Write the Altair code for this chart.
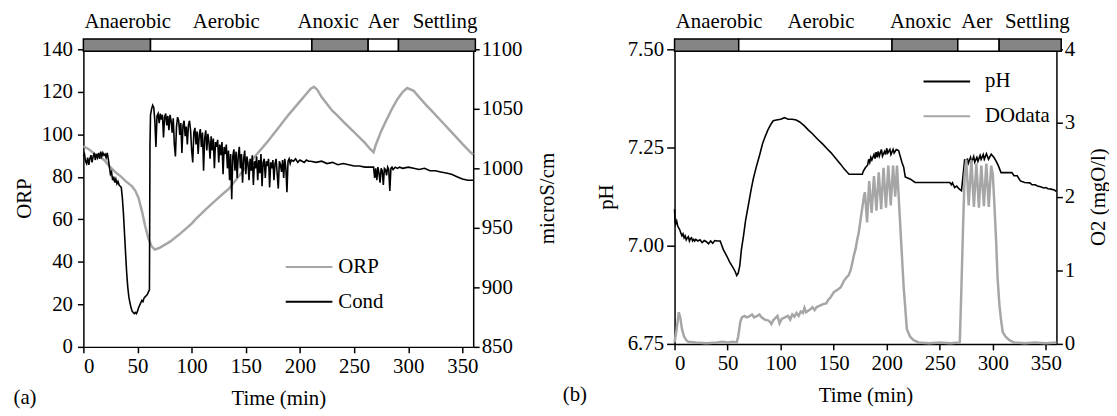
import altair as alt
import pandas as pd

# ---------------- data ----------------
phase_names = ["Anaerobic", "Aerobic", "Anoxic", "Aer", "Settling"]
phase_aerated = ["no", "yes", "no", "yes", "no"]
phase_start_a = [0, 62, 211, 263, 291]
phase_end_a = [62, 211, 263, 291, 362]
label_t_a = [41, 132, 226, 277, 334]
phase_start_b = [0, 60.5, 205, 267, 306]
phase_end_b = [60.5, 205, 267, 306, 364.5]
label_t_b = [42, 138, 232, 285, 342]

orp_t = [0, 5, 10, 15, 20, 24, 30, 35, 39, 45, 48, 51, 54, 57, 60, 63, 66, 70, 80, 90,
         100, 103, 112, 120, 130, 134, 140, 150, 160, 164, 170, 180, 186, 190, 200, 205,
         210, 213, 216, 220, 230, 234, 240, 250, 260, 265, 268, 270, 275, 279, 285, 290,
         295, 299, 305, 310, 317, 320, 330, 340, 350, 358, 360]
orp_v = [94.4, 93, 91, 89.5, 87.5, 85, 82, 80, 78, 75.5, 73.4, 70, 64, 57, 51, 47.3, 45.8,
         46.5, 49.5, 53.5, 58, 59.7, 64.2, 68, 72.5, 74.2, 78, 84.5, 90.5, 92.9, 96.5, 103,
         107, 109.5, 115.5, 118.5, 121.5, 122.4, 121, 117.5, 111, 109.2, 106, 101, 96, 93,
         91.6, 95, 101.5, 105.8, 112, 116.5, 120, 121.8, 120.5, 117.5, 113.5, 112, 106.5,
         101, 95.5, 91.3, 90.5]

cond_t = [0, 1, 2, 3, 4, 5, 6, 7, 8, 9, 10, 11, 12, 13, 14, 15, 16, 17, 18, 19, 20, 21, 22, 23,
          24, 25, 26, 27, 28, 29, 30, 31, 32, 33, 34, 35, 36, 37, 38, 39, 40, 41, 42, 43, 44,
          45, 46, 47, 48, 49, 50, 51, 52, 53, 54, 55, 56, 57, 58, 59, 60, 61, 61.5,
          62, 63, 64, 65, 66, 67, 68, 69, 70, 71, 72, 73, 74, 75, 76, 77, 78, 79, 80, 81, 82,
          83, 84, 85, 86, 87, 88, 89, 90, 91, 92, 93, 94, 95, 96, 97, 98, 99, 100, 101, 102,
          103, 104, 105, 106, 107, 108, 109, 110, 111, 112, 113, 114, 115, 116, 117, 118,
          119, 120, 121, 122, 123, 124, 125, 126, 127, 128, 129, 130, 131, 132, 133, 134,
          135, 136, 137, 138, 139, 140, 141, 142, 143, 144, 145, 146, 147, 148, 149, 150,
          151, 152, 153, 154, 155, 156, 157, 158, 159, 160, 161, 162, 163, 164, 165, 166,
          167, 168, 169, 170, 171, 172, 173, 174, 175, 176, 177, 178, 179, 180, 181, 182,
          183, 184, 185, 186, 187, 188, 189, 190, 191, 192, 194, 196, 198, 200, 202, 204,
          206, 208, 210, 215, 220, 225, 230, 235, 240, 245, 250, 255, 260, 265, 268, 269,
          270, 271, 272, 273, 274, 275, 276, 277, 278, 279, 280, 281, 282, 283, 284, 285,
          286, 288, 290, 292, 295, 300, 305, 310, 315, 320, 325, 330, 335, 340, 345, 350,
          355, 360]
cond_v = [1010, 1012, 1006, 1004, 1009, 1003, 1008, 1011, 1005, 1010, 1013, 1007, 1012, 1009,
          1013, 1008, 1014, 1010, 1013, 1011, 1012, 1009, 1013, 1008,
          1001, 995, 997, 990, 993, 988, 991, 987, 989, 986, 985, 984, 975, 962, 945, 928,
          912, 900, 892, 887, 883, 880, 879, 878, 879, 878, 880, 883, 885, 887, 889, 888,
          891, 892, 893, 894, 896, 898, 1020,
          1045, 1050, 1053, 1051, 1040, 1018, 1044, 1046, 1038, 1046, 1041, 1045, 1026, 1043,
          1046, 1036, 1044, 1032, 1045, 1040, 1030, 1042, 1020, 1010, 1035, 1043, 1040, 1028,
          1038, 1013, 1036, 1040, 1027, 1035, 1020, 1036, 1040, 1032, 1015, 1005, 1030, 1034,
          1020, 1031, 1012, 1028, 1033, 1018, 1030, 998, 1025, 1032, 1015, 1029, 1022, 1008,
          1027, 1015, 1025, 1000, 1022, 1018, 1024, 1005, 1020, 1011, 1022, 995, 1018, 1012,
          1020, 1000, 1015, 990, 1012, 974, 1010, 1016, 998, 1014, 992, 1010, 1018, 1000,
          1012, 988, 1008, 1015, 995, 1010, 1004, 990, 1008, 998, 1011, 986, 1006, 1000,
          1010, 990, 1007, 996, 1012, 985, 1005, 1008, 992, 1006, 1002, 1008, 984, 1005,
          1000, 1007, 990, 1004, 1008, 995, 983, 1006, 1003, 997, 1007, 992, 1008, 1000,
          980, 1006, 1008, 1004, 1007, 1006, 1008, 1005, 1007, 1006, 1005, 1007, 1006, 1006,
          1005, 1006, 1004, 1005, 1003, 1004, 1003, 1002, 1002, 1001, 1001, 1001, 992,
          1000, 990, 1001, 996, 988, 1000, 998, 986, 1000, 999, 994, 1001, 999, 981, 1000,
          1001, 999, 1001, 1000, 1001, 1000, 1001, 1000, 999, 1000, 998, 998, 997, 996,
          995, 993, 991, 990, 990]

ph_t = [0, 0.5, 1, 2, 3, 4, 5, 6, 7, 8, 9, 10, 11, 12, 13, 14, 15, 16, 17, 18, 19, 20, 22,
        24, 26, 28, 30, 32, 34, 36, 38, 40, 43, 46, 49, 52, 55, 57, 58.6, 60, 61.5, 63, 65,
        67, 69.5, 72, 74.2, 77, 80.4, 83, 85, 88, 91, 93, 96, 100, 103.7, 107, 111, 114.7,
        118, 122.4, 126, 130, 134.9, 140, 144, 147.4, 152, 156.7, 160, 164.5, 177, 178, 180,
        182, 183, 184, 185, 186, 188, 189, 190, 191, 192, 193, 195, 196, 198, 199, 200, 201,
        203, 204, 206, 207, 209, 211.2, 214.4, 216, 217.5, 222, 226.8, 259.5, 261, 262, 264,
        266, 268, 270.5, 272, 273.5, 275, 276, 277, 279, 280, 282, 283, 285, 286, 288, 289,
        291, 292, 294, 296, 298.5, 301, 303, 305, 307.8, 318, 320, 323, 326, 330, 335, 337,
        340, 342, 345, 348, 350, 352, 355, 358, 360]
ph_v = [7.093, 7.06, 7.055, 7.063, 7.05, 7.045, 7.04, 7.032, 7.025, 7.03, 7.02, 7.025,
        7.015, 7.02, 7.023, 7.012, 7.018, 7.02, 7.012, 7.016, 7.012, 7.016, 7.012, 7.015,
        7.008, 7.013, 7.01, 7.005, 7.012, 7.006, 7.013, 7.012, 7.012, 6.99, 6.975, 6.958,
        6.945, 6.935, 6.924, 6.93, 6.949, 6.99, 7.025, 7.065, 7.102, 7.14, 7.17, 7.2, 7.233,
        7.26, 7.275, 7.295, 7.31, 7.318, 7.32, 7.322, 7.326, 7.322, 7.322, 7.32, 7.315,
        7.305, 7.295, 7.285, 7.271, 7.258, 7.246, 7.237, 7.222, 7.207, 7.195, 7.182, 7.182,
        7.19, 7.199, 7.205, 7.22, 7.212, 7.225, 7.218, 7.232, 7.222, 7.238, 7.225, 7.24,
        7.228, 7.245, 7.228, 7.24, 7.232, 7.248, 7.236, 7.245, 7.232, 7.245, 7.236, 7.245,
        7.242, 7.212, 7.2, 7.175, 7.17, 7.161, 7.161, 7.155, 7.16, 7.148, 7.152, 7.145,
        7.14, 7.18, 7.22, 7.205, 7.222, 7.21, 7.225, 7.212, 7.227, 7.213, 7.225, 7.215,
        7.23, 7.22, 7.232, 7.22, 7.234, 7.22, 7.233, 7.225, 7.216, 7.205, 7.186, 7.186,
        7.178, 7.178, 7.165, 7.161, 7.16, 7.155, 7.155, 7.152, 7.15, 7.147, 7.148, 7.145,
        7.144, 7.142, 7.138]

do_t = [0, 2, 4, 5.5, 7, 9, 11, 13, 20, 30, 40, 45, 50, 55, 58.6, 60, 62, 63.5, 66, 68, 70,
        73, 75, 78, 80, 82, 85, 88, 90, 91.3, 93, 95, 97, 99, 101, 104, 107, 109, 111, 113,
        115, 117, 119, 121, 122.5, 124, 126, 128, 130, 132, 134, 137, 140, 143, 145, 147,
        150, 153, 156.7, 159.8, 162, 164, 166, 167.7, 169, 170.7, 172, 173.5, 175.4, 177,
        178.5, 179.5, 181.5, 183.5, 185.8, 188, 190.3, 192.5, 194.8, 197, 199.3, 201.5,
        203.8, 206, 208, 209.7, 212.8, 215.9, 219, 222, 225.3, 230, 240, 250, 260, 268.9,
        270.5, 272, 273.5, 275, 277.3, 279.8, 282.2, 284.5, 286.9, 289.2, 291.6, 293.9,
        296.2, 298.5, 300, 301.5, 303.2, 304.5, 306.3, 308, 309.4, 312, 315.6, 320, 330,
        340, 350, 360]
do_v = [0.02, 0.2, 0.43, 0.35, 0.2, 0.1, 0.05, 0.03, 0.02, 0.01, 0.02, 0.03, 0.02, 0.03,
        0.02, 0.1, 0.3, 0.36, 0.38, 0.36, 0.37, 0.4, 0.36, 0.38, 0.4, 0.36, 0.33, 0.32, 0.3,
        0.27, 0.32, 0.35, 0.38, 0.28, 0.34, 0.36, 0.38, 0.33, 0.4, 0.37, 0.42, 0.38, 0.44,
        0.42, 0.49, 0.43, 0.45, 0.47, 0.5, 0.46, 0.5, 0.52, 0.54, 0.55, 0.6, 0.63, 0.7,
        0.73, 0.77, 0.86, 0.9, 0.93, 1.0, 1.11, 1.2, 1.29, 1.4, 1.5, 1.69, 1.85, 2.0, 2.06,
        1.65, 2.21, 1.78, 2.28, 1.81, 2.33, 1.83, 2.39, 1.85, 2.42, 1.88, 2.42, 2.0, 2.42,
        1.6, 0.79, 0.2, 0.1, 0.05, 0.02, 0.01, 0.02, 0.01, 0.02, 0.8, 1.6, 2.3, 2.5, 1.88,
        2.5, 1.86, 2.45, 1.85, 2.42, 1.87, 2.45, 1.86, 2.42, 2.3, 1.9, 1.38, 0.9, 0.52, 0.3,
        0.16, 0.1, 0.05, 0.02, 0.01, 0.02, 0.01, 0.02]

# ---------------- styling ----------------
FONT = "Liberation Serif"
FS = 21
GRAY = "#a6a6a6"
BARGRAY = "#858585"

x_scale = alt.Scale(domain=[0, 360], nice=False)
x_axis = alt.Axis(values=list(range(0, 351, 50)), title="Time (min)", tickSize=6,
                  labelPadding=3, titlePadding=11)


def phase_layers(starts, ends, label_ts):
    df = pd.DataFrame({"phase": phase_names, "aerated": phase_aerated,
                       "start": starts, "end": ends, "lt": label_ts})
    bar = alt.Chart(df).mark_rect(stroke="black", strokeWidth=1.5).encode(
        x=alt.X("start:Q", scale=x_scale, axis=x_axis),
        x2="end:Q",
        y=alt.value(-10.5), y2=alt.value(2),
        fill=alt.Fill("aerated:N", scale=alt.Scale(domain=["no", "yes"],
                                                  range=[BARGRAY, "white"]), legend=None),
    )
    txt = alt.Chart(df).mark_text(font=FONT, fontSize=FS, baseline="alphabetic",
                                  color="black").encode(
        x=alt.X("lt:Q", scale=x_scale, axis=x_axis),
        y=alt.value(-21),
        text="phase:N",
    )
    return bar, txt


def legend(x, y, pad, off):
    return alt.Legend(title=None, orient="none", legendX=x, legendY=y,
                      symbolType="stroke", symbolSize=2209, symbolStrokeWidth=2,
                      labelFont=FONT, labelFontSize=FS, labelOffset=off, rowPadding=pad)


# ---------------- panel (a) ----------------
orp_df = pd.DataFrame({"t": orp_t, "v": orp_v, "series": "ORP"})
cond_df = pd.DataFrame({"t": cond_t, "v": cond_v, "series": "Cond"})

color_a = alt.Color("series:N",
                    scale=alt.Scale(domain=["ORP", "Cond"], range=[GRAY, "black"]),
                    legend=legend(203, 195, -19, 5))

orp_line = alt.Chart(orp_df).mark_line(strokeWidth=2.5).encode(
    x=alt.X("t:Q", scale=x_scale, axis=x_axis),
    y=alt.Y("v:Q", scale=alt.Scale(domain=[0, 140], nice=False),
            axis=alt.Axis(orient="left", title="ORP", values=list(range(0, 141, 20)),
                          tickSize=6, labelPadding=5, titlePadding=7)),
    color=color_a,
)
cond_line = alt.Chart(cond_df).mark_line(strokeWidth=1.6).encode(
    x=alt.X("t:Q", scale=x_scale, axis=x_axis),
    y=alt.Y("v:Q", scale=alt.Scale(domain=[850, 1100], nice=False),
            axis=alt.Axis(orient="right", title="microS/cm", format="d",
                          values=list(range(850, 1101, 50)), tickSize=6, labelPadding=2,
                          titlePadding=14, titleAngle=-90, titleBaseline="top")),
    color=color_a,
)
bar_a, txt_a = phase_layers(phase_start_a, phase_end_a, label_t_a)

panel_a = alt.layer(orp_line, cond_line, bar_a, txt_a).resolve_scale(
    y="independent").properties(
    width=393, height=300,
    title=alt.TitleParams("(a)", orient="bottom", anchor="start", frame="bounds",
                          font=FONT, fontSize=FS, fontWeight="normal", offset=-21))

# ---------------- panel (b) ----------------
ph_df = pd.DataFrame({"t": ph_t, "v": ph_v, "series": "pH"})
do_df = pd.DataFrame({"t": do_t, "v": do_v, "series": "DOdata"})

color_b = alt.Color("series:N",
                    scale=alt.Scale(domain=["pH", "DOdata"], range=["black", GRAY]),
                    legend=legend(250, 8, -12, 14))

ph_line = alt.Chart(ph_df).mark_line(strokeWidth=1.6).encode(
    x=alt.X("t:Q", scale=x_scale, axis=x_axis),
    y=alt.Y("v:Q", scale=alt.Scale(domain=[6.75, 7.5], nice=False),
            axis=alt.Axis(orient="left", title="pH", values=[6.75, 7.0, 7.25, 7.5],
                          format=".2f", tickSize=8, labelPadding=3, titlePadding=11)),
    color=color_b,
)
do_line = alt.Chart(do_df).mark_line(strokeWidth=2.5).encode(
    x=alt.X("t:Q", scale=x_scale, axis=x_axis),
    y=alt.Y("v:Q", scale=alt.Scale(domain=[0, 4], nice=False),
            axis=alt.Axis(orient="right", title="O2 (mgO/l)", values=[0, 1, 2, 3, 4],
                          tickSize=6, labelPadding=2, titlePadding=13, titleAngle=-90,
                          titleBaseline="top")),
    color=color_b,
)
bar_b, txt_b = phase_layers(phase_start_b, phase_end_b, label_t_b)

panel_b = alt.layer(ph_line, do_line, bar_b, txt_b).resolve_scale(
    y="independent").properties(
    width=385, height=297,
    title=alt.TitleParams("(b)", orient="bottom", anchor="start", frame="bounds",
                          font=FONT, fontSize=FS, fontWeight="normal", offset=-21, dx=-33))

chart = alt.hconcat(panel_a, panel_b, spacing=5).resolve_scale(
    color="independent", fill="independent", x="independent", y="independent"
).properties(
    padding={"left": 5, "top": 2, "right": 0, "bottom": 0}
).configure_view(stroke=None).configure_axis(
    labelFont=FONT, labelFontSize=FS, titleFont=FONT, titleFontSize=FS,
    titleFontWeight="normal", labelColor="black", titleColor="black",
    domainColor="black", tickColor="black", domainWidth=1.5, tickWidth=1.5, grid=False,
).configure_legend(padding=0)

chart.save("out.html", embed_options={"renderer": "svg", "actions": False})
